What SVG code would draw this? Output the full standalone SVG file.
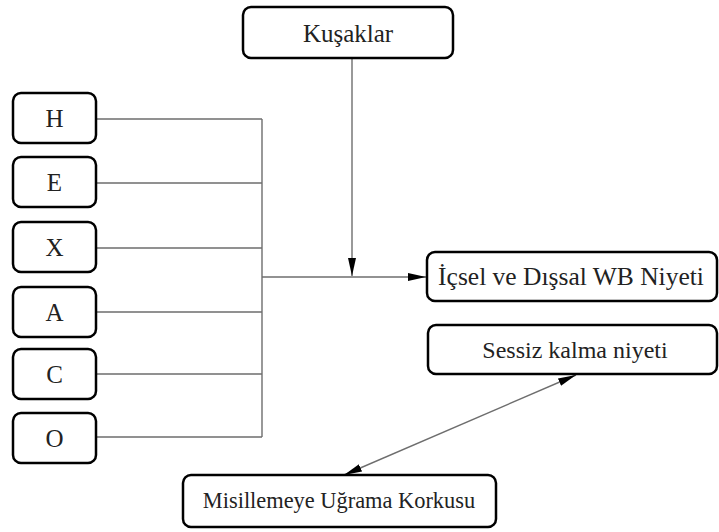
<svg xmlns="http://www.w3.org/2000/svg" width="719" height="532" viewBox="0 0 719 532">
  <style>
    .box { fill: #fff; stroke: #000; stroke-width: 2.5; }
    .lbl { font-family: 'Liberation Serif', 'Times New Roman', Times, 'DejaVu Serif', serif; font-size: 24px; fill: #222; text-anchor: middle; }
    .key { font-size: 25px; }
    .wire { fill: none; stroke: #6e6e6e; stroke-width: 1.4; }
  </style>
  <defs>
    <marker id="head" markerUnits="userSpaceOnUse" markerWidth="20" markerHeight="10" refX="18" refY="4" orient="auto-start-reverse">
      <path d="M0,0 L18,4 L0,8 Z" fill="#000"/>
    </marker>
  </defs>

  <rect width="719" height="532" fill="#fff"/>

  <!-- connectors -->
  <g id="connectors">
    <path class="wire" d="M96,119 H262 M96,183 H262 M96,248 H262 M96,312 H262 M96,374 H262 M96,437 H262 M262,119 V437"/>
    <path class="wire" d="M262,277 H426" marker-end="url(#head)"/>
    <path class="wire" d="M352,58 V276" marker-end="url(#head)"/>
    <path class="wire" stroke-width="1" d="M344,475 L576,375" marker-start="url(#head)" marker-end="url(#head)"/>
  </g>

  <g id="kusaklar">
    <rect class="box" x="243" y="7" width="210" height="51" rx="8"/>
    <text class="lbl" x="348" y="42" style="font-size:25px">Kuşaklar</text>
  </g>

  <g id="h">
    <rect class="box" x="13" y="93" width="83" height="50" rx="8"/>
    <text class="lbl key" x="54.5" y="127">H</text>
  </g>
  <g id="e">
    <rect class="box" x="13" y="157" width="83" height="50" rx="8"/>
    <text class="lbl key" x="54.5" y="191">E</text>
  </g>
  <g id="x">
    <rect class="box" x="13" y="222" width="83" height="50" rx="8"/>
    <text class="lbl key" x="54.5" y="256">X</text>
  </g>
  <g id="a">
    <rect class="box" x="13" y="287" width="83" height="50" rx="8"/>
    <text class="lbl key" x="54.5" y="321">A</text>
  </g>
  <g id="c">
    <rect class="box" x="13" y="349" width="83" height="50" rx="8"/>
    <text class="lbl key" x="54.5" y="383">C</text>
  </g>
  <g id="o">
    <rect class="box" x="13" y="413" width="83" height="50" rx="8"/>
    <text class="lbl key" x="54.5" y="447">O</text>
  </g>

  <g id="icsel-dissal">
    <rect class="box" x="427" y="252" width="290" height="49" rx="8"/>
    <text class="lbl" x="571" y="285" style="font-size:25.5px">İçsel ve Dışsal WB Niyeti</text>
  </g>

  <g id="sessiz-kalma">
    <rect class="box" x="428" y="325" width="289" height="49" rx="8"/>
    <text class="lbl" x="575" y="358">Sessiz kalma niyeti</text>
  </g>

  <g id="misilleme">
    <rect class="box" x="183" y="475" width="313" height="52" rx="8"/>
    <text class="lbl" x="339" y="508" style="font-size:22.4px">Misillemeye Uğrama Korkusu</text>
  </g>
</svg>
